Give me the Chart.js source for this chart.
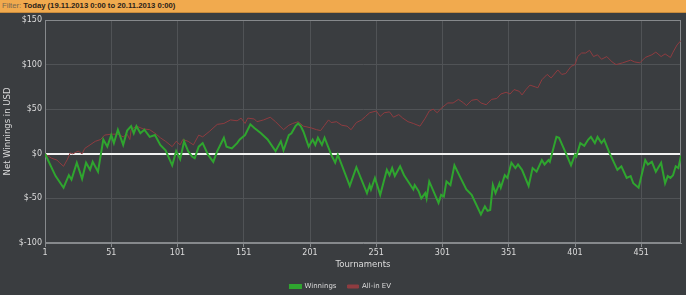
<!DOCTYPE html>
<html>
<head>
<meta charset="utf-8">
<script src="https://cdn.jsdelivr.net/npm/chart.js@4.4.0/dist/chart.umd.min.js"></script>
<style>
  html, body { margin:0; padding:0; background:#3a3d40; width:686px; height:295px; overflow:hidden; }
  #bar { position:absolute; left:0; top:0; width:686px; height:12px; background:#f1aa4e; border-bottom:1px solid #c98b3c;
         font-family:"Liberation Sans", Arial, sans-serif; font-size:7.7px; line-height:12px; white-space:nowrap; }
  #bar .lbl { color:#76664e; margin-left:2px; }
  #bar .val { color:#2a2219; font-weight:bold; }
  #wrap { position:absolute; left:0; top:0; width:686px; height:300px; }
</style>
</head>
<body>
<div id="wrap"><canvas id="c" width="686" height="300"></canvas></div>
<div id="bar"><span class="lbl">Filter:</span> <span class="val">Today (19.11.2013 0:00 to 20.11.2013 0:00)</span></div>
<script>
// ---- data ----
const xTickLabels = [1, 51, 101, 151, 201, 251, 301, 351, 401, 451];
const yTickLabels = [-100, -50, 0, 50, 100, 150];

const winT = [1, 9, 15, 19, 21, 25, 29, 32, 35, 37, 41, 45, 48, 51, 53, 56, 60, 63, 66, 68, 70, 73, 76, 80, 84, 88, 92, 97, 100, 103, 106, 109, 112, 114, 117, 120, 124, 128, 131, 136, 138, 142, 146, 148, 152, 156, 159, 164, 169, 175, 179, 181, 185, 187, 190, 192, 194, 196, 200, 203, 205, 207, 210, 212, 217, 220, 222, 231, 236, 244, 246, 247, 250, 254, 259, 261, 263, 265, 269, 272, 279, 280, 283, 285, 288, 289, 291, 298, 300, 302, 304, 307, 310, 314, 319, 323, 330, 333, 335, 337, 339, 341, 344, 345, 348, 350, 353, 356, 358, 361, 366, 369, 372, 376, 378, 381, 382, 387, 389, 394, 398, 401, 402, 405, 408, 411, 413, 416, 418, 421, 423, 427, 433, 436, 440, 443, 445, 449, 454, 456, 459, 462, 466, 469, 471, 473, 475, 477, 479, 481];
const winV = [0, -25, -38, -24, -29, -10, -28, -10, -18, -9, -20, 16, 8, 21, 12, 27, 10, 26, 31, 23, 31, 23, 27, 19, 21, 10, 4, -13, 3, -6, 14, 3, -3, -5, 8, 12, -1, -9, 3, 18, 8, 6, 12, 16, 21, 33, 29, 23, 16, 3, 14, 4, 21, 23, 31, 34, 31, 25, 8, 16, 10, 18, 10, 18, -1, -10, -1, -36, -15, -44, -35, -40, -27, -46, -18, -24, -16, -25, -14, -24, -40, -35, -42, -50, -44, -50, -31, -55, -46, -48, -31, -35, -13, -25, -40, -46, -68, -59, -64, -63, -35, -44, -33, -38, -24, -27, -10, -16, -12, -18, -36, -16, -20, -7, -12, -7, -9, 19, 18, 1, -13, -1, -3, 12, 9, 16, 19, 12, 19, 12, 16, 1, -18, -14, -27, -25, -33, -38, -7, -12, -9, -20, -10, -33, -25, -27, -24, -14, -16, -2];

const evT = [1, 6, 10, 12, 15, 18, 20, 22, 26, 29, 31, 35, 39, 43, 46, 51, 56, 60, 63, 65, 66, 70, 75, 80, 85, 88, 92, 97, 100, 103, 105, 109, 113, 117, 120, 125, 131, 136, 141, 146, 149, 152, 154, 159, 161, 166, 171, 175, 181, 185, 188, 192, 196, 202, 206, 209, 212, 215, 217, 221, 225, 229, 232, 236, 240, 243, 246, 251, 254, 257, 261, 264, 268, 271, 275, 279, 284, 288, 291, 294, 297, 300, 305, 309, 313, 317, 319, 323, 327, 330, 334, 338, 342, 345, 349, 352, 355, 359, 361, 364, 367, 371, 373, 376, 380, 383, 388, 391, 394, 398, 401, 403, 406, 409, 412, 415, 418, 421, 425, 429, 432, 437, 443, 446, 450, 454, 459, 462, 466, 469, 473, 475, 478, 481];
const evV = [0, -5, -7, -10, -14, -6, 1, 0, 3, 0, 6, 10, 14, 16, 21, 22, 22, 19, 22, 16, 27, 31, 28, 27, 22, 18, 14, 8, 14, 10, 16, 14, 10, 21, 19, 25, 33, 34, 38, 37, 40, 34, 40, 39, 36, 38, 41, 36, 27, 32, 34, 36, 31, 29, 27, 26, 32, 38, 35, 36, 32, 31, 27, 35, 38, 42, 46, 48, 42, 46, 47, 41, 44, 40, 36, 34, 31, 40, 48, 50, 46, 51, 57, 57, 61, 57, 54, 60, 61, 57, 55, 61, 62, 67, 69, 67, 72, 70, 66, 72, 77, 75, 74, 83, 89, 85, 94, 89, 90, 98, 100, 109, 113, 113, 116, 109, 111, 106, 109, 103, 100, 102, 105, 103, 102, 108, 111, 114, 109, 112, 108, 114, 122, 127];

const seriesNames = ['Winnings', 'All-in EV'];
const seriesColors = ['#2fa52f', '#8f3c40'];

const toPts = (t, v) => t.map((x, i) => ({x: x, y: v[i]}));

const gridColor = '#505356';
const frameColor = '#86898c';
const FONT = '"DejaVu Sans", sans-serif';

const framePlugin = {
  id: 'frame',
  beforeDatasetsDraw(chart) {
    const {ctx, chartArea: a} = chart;
    ctx.save();
    ctx.strokeStyle = frameColor;
    ctx.lineWidth = 1;
    ctx.strokeRect(a.left + 0.5, a.top + 0.5, a.right - a.left - 1, a.bottom - a.top - 1);
    ctx.restore();
  }
};

new Chart(document.getElementById('c'), {
  type: 'line',
  data: {
    datasets: [
      { label: seriesNames[0], data: toPts(winT, winV), borderColor: seriesColors[0], backgroundColor: seriesColors[0],
        borderWidth: 2, pointRadius: 0, tension: 0 },
      { label: seriesNames[1], data: toPts(evT, evV), borderColor: seriesColors[1], backgroundColor: seriesColors[1],
        borderWidth: 1, pointRadius: 0, tension: 0 }
    ]
  },
  options: {
    responsive: false,
    animation: false,
    events: [],
    layout: { padding: { left: 0, right: 5, top: 20, bottom: 0 } },
    font: { family: FONT },
    scales: {
      x: {
        type: 'linear', min: 1, max: 481,
        afterBuildTicks: s => { s.ticks = xTickLabels.map(v => ({value: v})); },
        afterFit: s => { s.height = 29; },
        grid: { color: gridColor, tickColor: frameColor, tickLength: 4, lineWidth: 1 },
        border: { display: true, color: frameColor },
        ticks: { color: '#dcdcdc', font: { size: 8, family: FONT }, padding: 1, maxRotation: 0, autoSkip: false },
        title: { display: true, text: 'Tournaments', color: '#dcdcdc', font: { size: 8.5, family: FONT }, padding: { top: 2, bottom: 2 } }
      },
      y: {
        min: -100, max: 150,
        afterBuildTicks: s => { s.ticks = yTickLabels.map(v => ({value: v})); },
        afterFit: s => { s.width = 45; },
        grid: {
          drawTicks: false,
          color: c => (c.tick && c.tick.value === 0) ? '#f2f2f2' : gridColor,
          lineWidth: c => (c.tick && c.tick.value === 0) ? 2 : 1
        },
        border: { display: true, color: frameColor },
        ticks: { color: '#dcdcdc', font: { size: 8, family: FONT }, padding: 3,
                 callback: v => '$' + v },
        title: { display: true, text: 'Net Winnings in USD', color: '#dcdcdc', font: { size: 8.5, family: FONT }, padding: { top: 3, bottom: 2 } }
      }
    },
    plugins: {
      legend: {
        position: 'bottom',
        labels: { color: '#dcdcdc', font: { size: 7, family: FONT }, boxWidth: 11, boxHeight: 3, padding: 11 }
      },
      tooltip: { enabled: false }
    }
  },
  plugins: [framePlugin]
});
</script>
</body>
</html>
